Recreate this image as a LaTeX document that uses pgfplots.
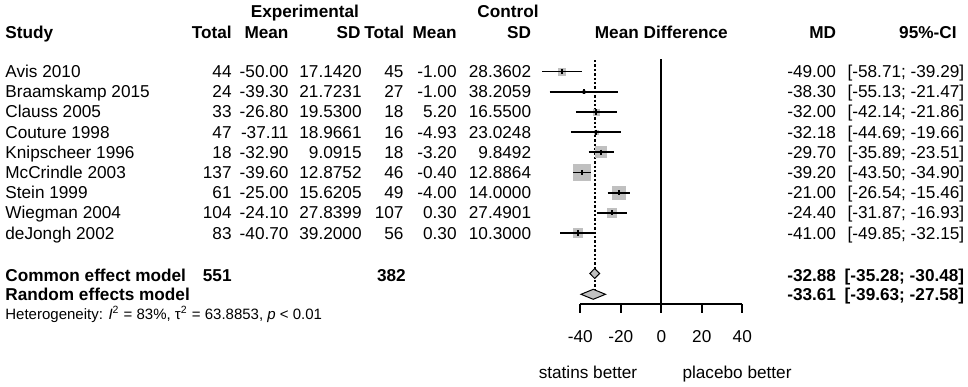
\documentclass[border=0pt]{standalone}
\usepackage{fontspec}
\setmainfont{Liberation Sans}
\usepackage{pgfplots}
\usepackage{pgfplotstable}
\pgfplotsset{compat=1.18}
\definecolor{sq}{HTML}{C0C0C0}

% y = row centre (pixel rows from top), md, lower, upper, square half-size (pt)
\pgfplotstableread{
y     md     lo     hi     ms
71.5  -49.00 -58.71 -39.29 1.75
91.7  -38.30 -55.13 -21.47 0.8
111.9 -32.00 -42.14 -21.86 1.5
132.1 -32.18 -44.69 -19.66 1.0
152.3 -29.70 -35.89 -23.51 2.75
172.5 -39.20 -43.50 -34.90 4.1
192.7 -21.00 -26.54 -15.46 3.3
212.9 -24.40 -31.87 -16.93 2.4
233.1 -41.00 -49.85 -32.15 2.2
}\studies

\newcommand\R[9]{%
 \node[anchor=base west] at (axis cs:-324.1,#1) {#2};
 \node[anchor=base east] at (axis cs:-212.0,#1) {#3};
 \node[anchor=base east] at (axis cs:-183.9,#1) {#4};
 \node[anchor=base east] at (axis cs:-147.8,#1) {#5};
 \node[anchor=base east] at (axis cs:-127.1,#1) {#6};
 \node[anchor=base east] at (axis cs:-100.9,#1) {#7};
 \node[anchor=base east] at (axis cs:-64.1,#1) {#8};
 \node[anchor=base east] at (axis cs:86.5,#1) {#9};
}
\newcommand\C[2]{\node[anchor=base east] at (axis cs:149.8,#1) {#2};}
\newcommand\hetline{Heterogeneity: \textit{I}\textsuperscript{2} = 83\%, τ\textsuperscript{2} = 63.8853, \textit{p} < 0.01}

\begin{document}
\begin{tikzpicture}[every node/.style={inner sep=0pt, font=\fontsize{8.6}{10}\selectfont}]
\begin{axis}[
  set layers,
  scale only axis, width=484pt, height=193.5pt,
  xmin=-326.57, xmax=151.46, ymin=0, ymax=387,
  y dir=reverse, hide axis, clip=false,
  ci/.style={line width=0.9pt, on layer=axis foreground}]
\path (axis cs:-326.57,0) rectangle (axis cs:151.46,387);

% reference lines
\addplot[line width=1pt] coordinates {(0,59.3) (0,304)};
\addplot[line width=1pt, dash pattern=on 1.2pt off 1pt] coordinates {(-32.88,60) (-32.88,290)};

% squares (behind the interval lines)
\addplot[on layer=axis background, scatter, only marks, mark=square*,
  scatter/use mapped color={draw=sq, fill=sq},
  visualization depends on={\thisrow{ms}\as\msz},
  scatter/@pre marker code/.append style={/tikz/mark size=\msz}]
  table[x=md, y=y] {\studies};

% confidence intervals
\addplot[ci] coordinates {(-58.71,71.5) (-39.29,71.5)};
\addplot[ci] coordinates {(-55.13,91.7) (-21.47,91.7)};
\addplot[ci] coordinates {(-42.14,111.9) (-21.86,111.9)};
\addplot[ci] coordinates {(-44.69,132.1) (-19.66,132.1)};
\addplot[ci] coordinates {(-35.89,152.3) (-23.51,152.3)};
\addplot[ci] coordinates {(-43.50,172.5) (-34.90,172.5)};
\addplot[ci] coordinates {(-26.54,192.7) (-15.46,192.7)};
\addplot[ci] coordinates {(-31.87,212.9) (-16.93,212.9)};
\addplot[ci] coordinates {(-49.85,233.1) (-32.15,233.1)};

% point estimates
\addplot[on layer=axis foreground, only marks, mark=|, mark size=1.3pt, mark options={line width=1pt}]
  table[x=md, y=y] {\studies};

% diamonds
\addplot[on layer=axis foreground, fill=sq, draw=black, line width=0.5pt] coordinates
  {(-35.28,273.5) (-32.88,268.5) (-30.48,273.5) (-32.88,278.5)} -- cycle;
\addplot[on layer=axis foreground, fill=sq, draw=black, line width=0.5pt] coordinates
  {(-39.63,294.3) (-33.61,289.3) (-27.58,294.3) (-33.61,299.3)} -- cycle;

% x axis
\draw[line width=1pt] (axis cs:-40,304) -- (axis cs:40,304);
\draw[line width=1pt] (axis cs:-40,304) -- (axis cs:-40,313);
\draw[line width=1pt] (axis cs:-20,304) -- (axis cs:-20,313);
\draw[line width=1pt] (axis cs:0,304) -- (axis cs:0,313);
\draw[line width=1pt] (axis cs:20,304) -- (axis cs:20,313);
\draw[line width=1pt] (axis cs:40,304) -- (axis cs:40,313);
\node[anchor=base] at (axis cs:-40,343) {-40};
\node[anchor=base] at (axis cs:-20,343) {-20};
\node[anchor=base] at (axis cs:0,343) {0};
\node[anchor=base] at (axis cs:20,343) {20};
\node[anchor=base] at (axis cs:40,343) {40};
\node[anchor=base] at (axis cs:-36.2,379) {statins better};
\node[anchor=base] at (axis cs:37.4,379) {placebo better};

% headers
\node[anchor=base, font=\fontsize{8.6}{10}\selectfont\bfseries] at (axis cs:-176.0,17) {Experimental};
\node[anchor=base, font=\fontsize{8.6}{10}\selectfont\bfseries] at (axis cs:-75.7,17) {Control};
\node[anchor=base west, font=\fontsize{8.6}{10}\selectfont\bfseries] at (axis cs:-324.1,38) {Study};
\node[anchor=base east, font=\fontsize{8.6}{10}\selectfont\bfseries] at (axis cs:-212.0,38) {Total};
\node[anchor=base east, font=\fontsize{8.6}{10}\selectfont\bfseries] at (axis cs:-183.9,38) {Mean};
\node[anchor=base east, font=\fontsize{8.6}{10}\selectfont\bfseries] at (axis cs:-148.3,38) {SD};
\node[anchor=base east, font=\fontsize{8.6}{10}\selectfont\bfseries] at (axis cs:-126.8,38) {Total};
\node[anchor=base east, font=\fontsize{8.6}{10}\selectfont\bfseries] at (axis cs:-100.9,38) {Mean};
\node[anchor=base east, font=\fontsize{8.6}{10}\selectfont\bfseries] at (axis cs:-64.1,38) {SD};
\node[anchor=base, font=\fontsize{8.6}{10}\selectfont\bfseries] at (axis cs:0,38) {Mean Difference};
\node[anchor=base east, font=\fontsize{8.6}{10}\selectfont\bfseries] at (axis cs:86.5,38) {MD};
\node[anchor=base east, font=\fontsize{8.6}{10}\selectfont\bfseries] at (axis cs:146.0,38) {95\%-CI};

% study rows
\R{77.5}{Avis 2010}{44}{-50.00}{17.1420}{45}{-1.00}{28.3602}{-49.00}
\C{77.5}{[-58.71; -39.29]}
\R{97.7}{Braamskamp 2015}{24}{-39.30}{21.7231}{27}{-1.00}{38.2059}{-38.30}
\C{97.7}{[-55.13; -21.47]}
\R{117.9}{Clauss 2005}{33}{-26.80}{19.5300}{18}{5.20}{16.5500}{-32.00}
\C{117.9}{[-42.14; -21.86]}
\R{138.1}{Couture 1998}{47}{-37.11}{18.9661}{16}{-4.93}{23.0248}{-32.18}
\C{138.1}{[-44.69; -19.66]}
\R{158.3}{Knipscheer 1996}{18}{-32.90}{9.0915}{18}{-3.20}{9.8492}{-29.70}
\C{158.3}{[-35.89; -23.51]}
\R{178.5}{McCrindle 2003}{137}{-39.60}{12.8752}{46}{-0.40}{12.8864}{-39.20}
\C{178.5}{[-43.50; -34.90]}
\R{198.7}{Stein 1999}{61}{-25.00}{15.6205}{49}{-4.00}{14.0000}{-21.00}
\C{198.7}{[-26.54; -15.46]}
\R{218.9}{Wiegman 2004}{104}{-24.10}{27.8399}{107}{0.30}{27.4901}{-24.40}
\C{218.9}{[-31.87; -16.93]}
\R{239.1}{deJongh 2002}{83}{-40.70}{39.2000}{56}{0.30}{10.3000}{-41.00}
\C{239.1}{[-49.85; -32.15]}

% summary rows
\node[anchor=base west, font=\fontsize{8.6}{10}\selectfont\bfseries] at (axis cs:-324.1,282) {Common effect model};
\node[anchor=base east, font=\fontsize{8.6}{10}\selectfont\bfseries] at (axis cs:-212.0,282) {551};
\node[anchor=base east, font=\fontsize{8.6}{10}\selectfont\bfseries] at (axis cs:-126.0,282) {382};
\node[anchor=base east, font=\fontsize{8.6}{10}\selectfont\bfseries] at (axis cs:86.5,282) {-32.88};
\node[anchor=base east, font=\fontsize{8.6}{10}\selectfont\bfseries] at (axis cs:149.8,282) {[-35.28; -30.48]};
\node[anchor=base west, font=\fontsize{8.6}{10}\selectfont\bfseries] at (axis cs:-324.1,301) {Random effects model};
\node[anchor=base east, font=\fontsize{8.6}{10}\selectfont\bfseries] at (axis cs:86.5,301) {-33.61};
\node[anchor=base east, font=\fontsize{8.6}{10}\selectfont\bfseries] at (axis cs:149.8,301) {[-39.63; -27.58]};
\coordinate (het) at (axis cs:-324.1,319.5);
\end{axis}
\node[anchor=base west, font=\fontsize{7.5}{9}\selectfont] at (het) {\hetline};
\end{tikzpicture}
\end{document}
